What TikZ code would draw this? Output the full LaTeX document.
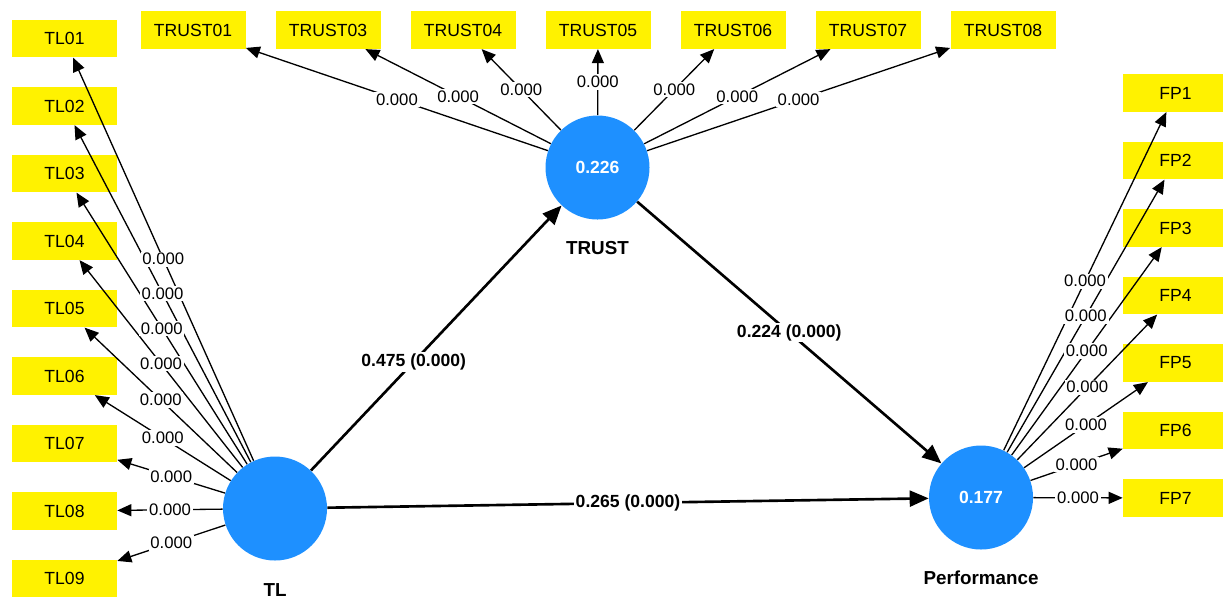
\documentclass[tikz,border=0pt]{standalone}
\usepackage{fontspec}
\setmainfont{Liberation Sans}
\usetikzlibrary{arrows.meta,positioning}

\definecolor{lvblue}{RGB}{30,144,255}

\begin{document}
\begin{tikzpicture}[x=0.2mm, y=-0.2mm,
    item/.style={fill=yellow, minimum width=21mm, minimum height=7.5mm, inner sep=0pt, font=\fontsize{10}{12}\selectfont},
    latent/.style={circle, fill=lvblue, minimum size=20.8mm, inner sep=0pt, text=white, font=\bfseries\fontsize{10}{12}\selectfont},
    lvname/.style={inner sep=0pt, font=\bfseries\fontsize{10.7}{13}\selectfont},
    load/.style={line width=0.75pt, -{Triangle[length=2.8mm,width=2.4mm]}},
    relation/.style={line width=1.5pt, -{Triangle[length=3.8mm,width=3.2mm]}},
    wlabel/.style={fill=white, inner sep=1pt, font=\fontsize{9.5}{11}\selectfont},
    blabel/.style={fill=white, inner sep=1pt, font=\bfseries\fontsize{10}{12}\selectfont}]
  \useasboundingbox (0,0) rectangle (1223,599);

  % latent variables
  \node[latent] (tl) at (275,508.5) {};
  \node[latent] (trust) at (597.5,167.5) {0.226};
  \node[latent] (perf) at (981,497.5) {0.177};
  \node[lvname, below=4.4mm of tl] (tlname) {TL};
  \node[lvname, below=4.2mm of trust] (trustname) {TRUST};
  \node[lvname, below=4.2mm of perf] (perfname) {Performance};

  % indicators
  \foreach \i [count=\k] in {01,02,03,04,05,06,07,08,09}
    \node[item] (tl\i) at (64.5,-29+67.5*\k) {TL\i};
  \foreach \i [count=\k] in {01,03,04,05,06,07,08}
    \node[item] (trust\i) at (58+135*\k,30) {TRUST\i};
  \foreach \i in {1,...,7}
    \node[item] (fp\i) at (1175.5,25.5+67.5*\i) {FP\i};

  % outer loadings
  \foreach \i in {01,02,03,04,05,06,07,08,09}
    \draw[load] (tl) -- (tl\i) coordinate[midway] (tlm\i);
  \foreach \i in {01,03,04,05,06,07,08}
    \draw[load] (trust) -- (trust\i) coordinate[midway] (trustm\i);
  \foreach \i in {1,...,7}
    \draw[load] (perf) -- (fp\i) coordinate[midway] (fpm\i);

  \foreach \i in {01,02,03,04,05,06,07,08,09}
    \node[wlabel] (tll\i) at (tlm\i) {0.000};
  \foreach \i in {01,03,04,05,06,07,08}
    \node[wlabel] (trustl\i) at (trustm\i) {0.000};
  \foreach \i in {1,...,7}
    \node[wlabel] (fpl\i) at (fpm\i) {0.000};

  % inner model
  \draw[relation] (tl) -- (trust) node[blabel, pos=0.41] (c1) {0.475 (0.000)};
  \draw[relation] (trust) -- (perf) node[blabel, midway] (c2) {0.224 (0.000)};
  \draw[relation] (tl) -- (perf) node[blabel, midway] (c3) {0.265 (0.000)};
\end{tikzpicture}
\end{document}
